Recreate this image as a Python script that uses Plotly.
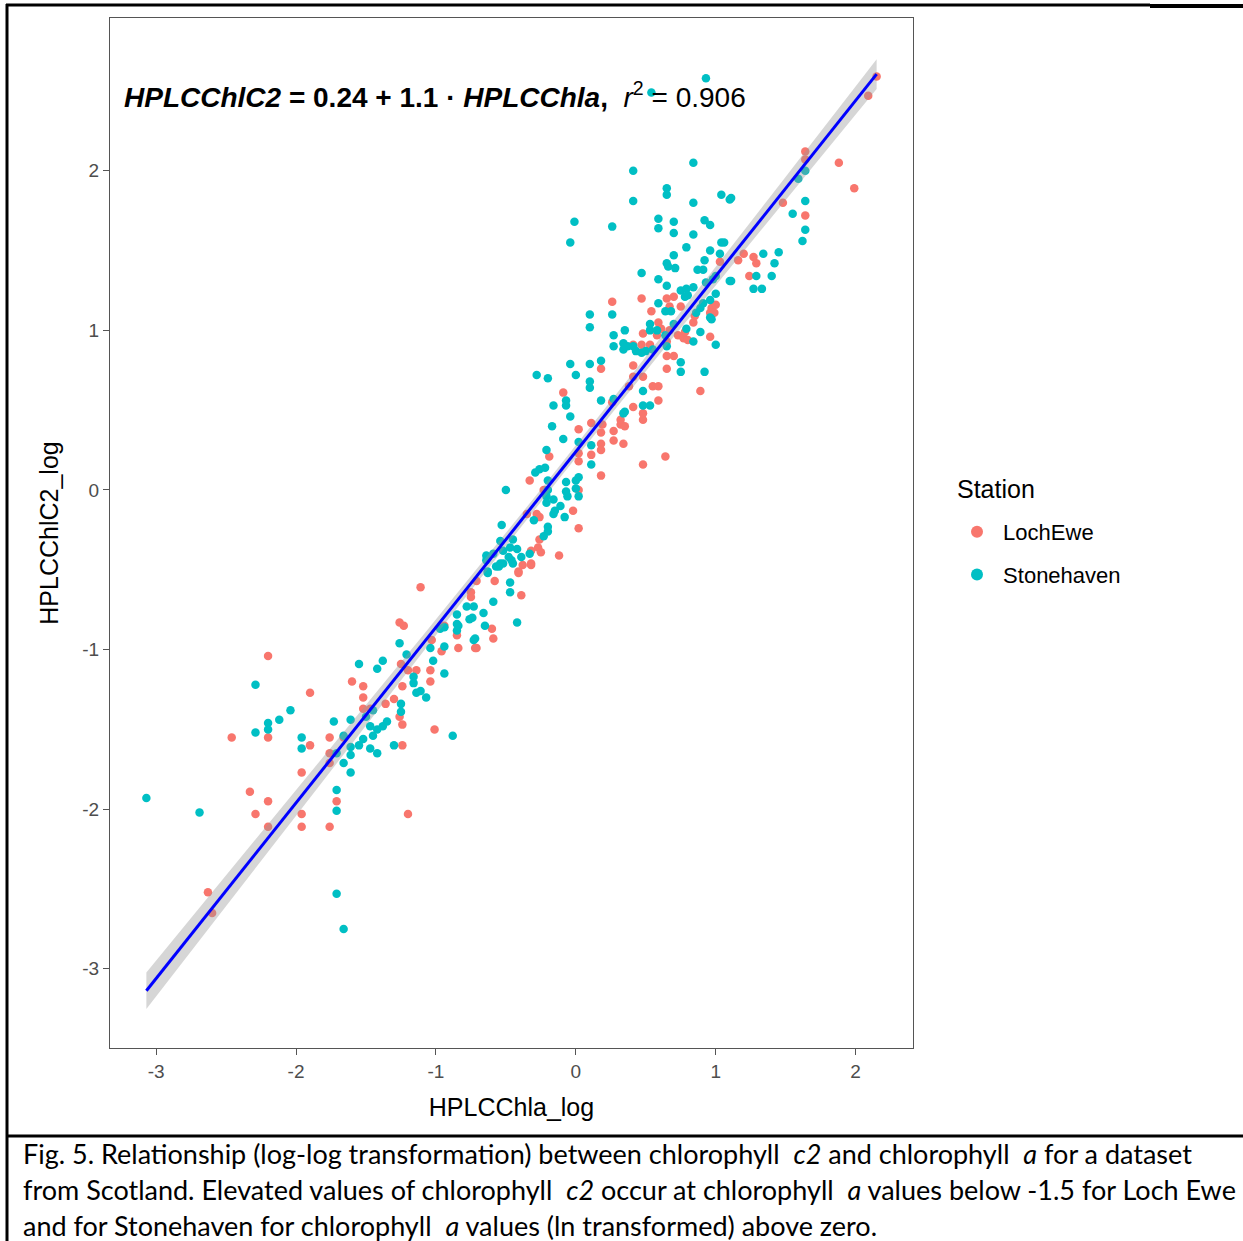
import numpy as np
import plotly.graph_objects as go

# ---------------- data ----------------
lochewe_x = [-2.63,-2.60,-2.46,-2.33,-2.29,-2.20,-2.20,-2.20,-2.20,-1.90,-1.90,-1.96,-1.96,-1.96,
             -1.76,-1.76,-1.76,-1.76,-1.71,-1.20,-1.01,-1.52,-1.52,-1.60,-1.52,-1.47,-1.36,-1.30,
             -1.26,-1.24,-1.24,-1.24,-1.66,-1.25,-1.20,-1.14,-1.04,-1.04,-0.96,-1.03,-0.85,-0.84,
             -0.71,-0.94,-1.26,-1.23,-1.11,-0.38,-0.32,-0.41,-0.58,-0.71,-0.39,-0.75,-0.75,-0.60,
             -0.59,-0.72,0.02,0.11,0.19,0.27,0.27,0.18,0.18,0.18,0.02,0.02,0.11,0.18,-0.19,-0.33,
             -0.23,0.02,-0.02,0.02,-0.28,-0.26,-0.35,-0.26,-0.27,-0.32,-0.25,-0.12,-0.32,-0.41,
             0.26,0.47,0.65,0.70,0.67,0.75,0.54,0.97,1.00,0.96,0.99,0.59,0.61,0.58,0.67,0.65,
             0.73,0.77,0.80,0.78,0.84,0.85,0.96,0.48,0.41,0.47,0.53,0.65,0.70,0.65,0.89,0.18,
             0.41,0.48,0.41,0.38,0.55,0.59,0.59,0.41,0.32,0.32,0.35,-0.09,0.26,0.34,0.48,0.64,
             0.48,0.48,1.03,1.20,1.16,1.27,1.29,1.24,1.48,2.15,2.09,1.64,1.64,1.88,1.99,1.64]
lochewe_y = [-2.52,-2.65,-1.55,-1.89,-2.03,-1.04,-1.55,-1.95,-2.11,-1.27,-1.60,-1.77,-2.03,-2.11,
             -1.55,-1.65,-1.71,-2.11,-1.95,-2.03,-1.50,-1.30,-1.23,-1.20,-1.37,-1.37,-1.34,-1.31,
             -1.42,-1.47,-1.60,-1.23,-1.55,-1.09,-1.13,-1.13,-1.13,-1.20,-1.01,-0.94,-0.91,-0.99,
             -0.99,-0.85,-0.83,-0.85,-0.61,-0.47,-0.47,-0.52,-0.57,-0.57,-0.66,-0.64,-0.67,-0.87,
             -0.93,-0.99,0.38,0.42,0.41,0.37,0.31,0.36,0.29,0.25,0.23,0.18,0.22,0.09,0.21,0.06,
             0.00,0.00,-0.13,-0.24,-0.15,-0.17,-0.15,-0.31,-0.36,-0.38,-0.39,-0.41,-0.46,-0.51,
             1.18,1.20,1.20,1.21,1.15,1.15,1.12,1.14,1.16,1.11,1.11,1.05,1.01,0.97,1.00,0.93,
             0.97,0.95,0.94,0.99,1.05,1.09,0.96,0.98,0.91,0.91,0.91,0.84,0.84,0.76,0.62,0.76,
             0.78,0.71,0.71,0.65,0.65,0.65,0.56,0.52,0.44,0.41,0.40,0.61,0.55,0.29,0.16,0.21,
             0.48,0.44,1.43,1.48,1.44,1.46,1.42,1.34,1.80,2.59,2.47,2.12,2.07,2.05,1.89,1.72]

stonehaven_x = [-3.07,-2.69,-2.29,-2.29,-2.20,-2.20,-2.12,-2.04,-1.96,-1.96,-1.73,-1.71,-1.71,-1.71,
                -1.66,-0.88,-1.66,-1.61,-1.61,-1.61,-1.66,-1.61,-1.55,-1.52,-1.47,-1.42,-1.45,-1.38,
                -1.35,-1.47,-1.42,-1.30,-1.50,-1.45,-1.71,-1.26,-1.55,-1.42,-1.38,-1.21,-1.16,-1.16,
                -1.14,-1.07,-1.11,-1.02,-1.04,-0.94,-0.94,-0.73,-0.84,-0.76,-0.97,-1.25,-1.25,-0.64,
                -0.57,-0.52,-0.46,-0.63,-0.47,-0.47,-0.59,-0.78,-0.73,-0.66,-0.74,-0.65,-0.42,-0.72,
                -0.85,-0.85,-0.85,-0.94,-0.16,-0.07,-0.04,-0.17,-0.09,0.02,0.11,-0.21,-0.29,-0.26,
                -0.22,-0.50,-0.20,-0.20,-0.21,-0.21,-0.16,-0.07,-0.07,0.00,0.00,0.02,-0.06,-0.11,
                -0.16,-0.08,-0.15,-0.30,-0.20,-0.20,-0.53,-0.33,-0.64,-0.59,-0.52,-0.47,-0.48,-0.42,
                -0.54,-0.45,-0.55,-0.39,-0.45,-0.54,-0.63,-0.23,0.59,0.65,0.75,0.79,0.84,0.80,0.78,
                0.93,0.98,1.00,1.10,0.59,0.64,0.68,0.89,0.91,0.86,0.97,0.10,0.10,0.26,0.53,0.53,
                0.58,0.64,0.70,0.79,0.89,0.84,1.00,0.35,0.27,0.27,0.34,0.34,0.37,0.41,0.43,0.47,
                0.50,0.55,0.65,0.75,0.75,0.92,-0.04,0.00,-0.20,-0.28,0.10,0.18,0.10,0.10,0.48,0.48,
                0.53,0.35,0.27,-0.07,0.18,0.34,0.11,0.02,0.41,0.84,1.10,-0.01,-0.04,0.26,0.59,0.59,
                0.70,0.70,0.84,0.92,0.96,0.79,0.70,0.96,1.04,1.06,1.03,0.65,0.71,0.66,0.47,0.92,
                0.91,0.87,1.34,1.45,1.42,1.40,1.29,1.27,1.33,1.11,1.00,1.55,0.96,0.96,0.93,0.54,
                1.64,1.59,1.64,1.64,1.62,0.41,0.84,0.65,0.65,1.04,1.11]
stonehaven_y = [-1.93,-2.02,-1.22,-1.52,-1.46,-1.50,-1.44,-1.38,-1.55,-1.62,-1.45,-1.88,-2.01,-2.53,
                -2.75,-1.54,-1.54,-1.44,-1.61,-1.66,-1.71,-1.77,-1.60,-1.56,-1.48,-1.50,-1.54,-1.48,
                -1.45,-1.62,-1.65,-1.60,-1.42,-1.38,-1.65,-0.96,-1.09,-1.12,-1.07,-1.03,-1.17,-1.21,
                -1.27,-1.30,-1.26,-1.07,-0.99,-1.15,-0.98,-0.94,-0.85,-0.81,-0.87,-1.34,-1.39,-0.44,
                -0.48,-0.46,-0.44,-0.52,-0.58,-0.64,-0.70,-0.73,-0.73,-0.77,-0.80,-0.85,-0.83,-0.93,
                -0.78,-0.84,-0.88,-0.86,0.53,0.53,0.46,0.40,0.32,0.30,0.16,0.25,0.11,0.13,
                0.14,0.00,0.06,0.00,-0.04,-0.08,-0.06,0.05,-0.01,0.06,0.01,-0.04,-0.04,-0.10,
                -0.15,-0.17,-0.13,-0.19,-0.23,-0.26,-0.22,-0.40,-0.41,-0.40,-0.38,-0.36,-0.42,-0.37,
                -0.46,-0.46,-0.48,-0.42,-0.31,-0.32,-0.51,-0.29,1.32,1.28,1.25,1.26,1.27,1.22,1.21,
                1.30,1.32,1.23,1.31,1.17,1.12,1.12,1.14,1.17,1.11,1.07,1.10,1.02,1.10,1.04,1.00,
                1.00,0.97,1.04,1.01,0.99,0.93,0.91,1.00,0.97,0.90,0.92,0.88,0.90,0.90,0.87,0.86,
                0.87,0.88,0.90,0.80,0.74,0.74,0.79,0.72,0.70,0.72,0.79,0.81,0.68,0.64,0.62,0.53,
                0.53,0.49,0.57,0.56,0.56,0.48,0.28,0.08,1.81,1.80,1.82,1.68,1.55,1.65,1.70,1.64,
                1.68,1.61,1.60,1.69,1.66,1.52,1.47,1.50,1.55,1.55,1.48,1.42,1.39,1.40,1.36,1.44,
                1.38,1.38,1.48,1.49,1.42,1.34,1.34,1.26,1.26,1.31,1.34,1.73,1.19,1.08,2.58,2.49,
                2.00,1.95,1.81,1.63,1.56,2.00,2.05,1.89,1.85,1.85,1.83]

fit_intercept = 0.24
fit_slope = 1.1
r_squared = 0.906

station_names = ["LochEwe", "Stonehaven"]
station_colors = ["#F8766D", "#00BFC4"]

x_ticks = [-3, -2, -1, 0, 1, 2]
y_ticks = [-3, -2, -1, 0, 1, 2]

caption_lines = [
    "Fig. 5. Relationship (log-log transformation) between chlorophyll  <i>c2</i> and chlorophyll  <i>a</i> for a dataset",
    "from Scotland. Elevated values of chlorophyll  <i>c2</i> occur at chlorophyll  <i>a</i> values below -1.5 for Loch Ewe",
    "and for Stonehaven for chlorophyll  <i>a</i> values (ln transformed) above zero.",
]

# ---------------- regression line and 95% band ----------------
all_x = np.array(lochewe_x + stonehaven_x)
all_y = np.array(lochewe_y + stonehaven_y)
n = len(all_x)
resid = all_y - (fit_intercept + fit_slope * all_x)
s = np.sqrt(np.sum(resid ** 2) / (n - 2))
xbar = all_x.mean()
sxx = np.sum((all_x - xbar) ** 2)
xs = np.linspace(all_x.min(), all_x.max(), 80)
ys = fit_intercept + fit_slope * xs
se = s * np.sqrt(1.0 / n + (xs - xbar) ** 2 / sxx) * 1.966

# ---------------- figure ----------------
W, H = 1243, 1241
L, R, T, B = 110, 913, 18, 1048  # plot-area pixel box


def px(xp):
    return (xp - L) / (R - L)


def py(yp):
    return (B - yp) / (B - T)


fig = go.Figure()

for name, col, xv, yv in [(station_names[0], station_colors[0], lochewe_x, lochewe_y),
                          (station_names[1], station_colors[1], stonehaven_x, stonehaven_y)]:
    fig.add_trace(go.Scatter(x=xv, y=yv, mode="markers", name="\u00a0" + name, legendgroup=name,
                             marker=dict(color=col, size=8.5, line=dict(width=0))))

fig.add_trace(go.Scatter(x=xs, y=ys - se, mode="lines", line=dict(width=0),
                         showlegend=False, hoverinfo="skip"))
fig.add_trace(go.Scatter(x=xs, y=ys + se, mode="lines", line=dict(width=0),
                         fill="tonexty", fillcolor="rgba(153,153,153,0.4)",
                         showlegend=False, hoverinfo="skip"))
fig.add_trace(go.Scatter(x=xs, y=ys, mode="lines", line=dict(color="#0000FF", width=3),
                         showlegend=False, hoverinfo="skip"))

axis_common = dict(showgrid=False, zeroline=False, showline=True, mirror=True,
                   linecolor="#555555", linewidth=1.3, ticks="outside", ticklen=6,
                   tickcolor="#555555", tickwidth=1.2,
                   tickfont=dict(family="Liberation Sans, Arial", size=19, color="#4D4D4D"))

fig.update_xaxes(range=[-3.33, 2.41], tickvals=x_ticks, ticktext=[str(t) for t in x_ticks],
                 title=dict(text="HPLCChla_log", standoff=17,
                            font=dict(family="Liberation Sans, Arial", size=25, color="#000")),
                 **axis_common)
fig.update_yaxes(range=[-3.496, 2.957], tickvals=y_ticks, ticktext=[str(t) for t in y_ticks],
                 title=dict(text="HPLCChlC2_log", standoff=16,
                            font=dict(family="Liberation Sans, Arial", size=25, color="#000")),
                 **axis_common)

annotations = [
    dict(xref="paper", yref="paper", x=px(122), y=py(95), xanchor="left", yanchor="middle",
         showarrow=False,
         text=f"<b><i>HPLCChlC2</i> = {fit_intercept} + {fit_slope} · <i>HPLCChla</i>,</b>  "
              f"<i>r</i><sup>2</sup> = {r_squared}",
         font=dict(family="Liberation Sans, Arial", size=28, color="#000")),
    dict(xref="paper", yref="paper", x=px(955), y=py(489), xanchor="left", yanchor="middle",
         showarrow=False, text="Station",
         font=dict(family="Liberation Sans, Arial", size=25, color="#000")),
]
for i, line in enumerate(caption_lines):
    annotations.append(dict(xref="paper", yref="paper", x=px(21), y=py(1153 + 36 * i),
                            xanchor="left", yanchor="middle", showarrow=False, text=line,
                            font=dict(family="Lato, Open Sans, sans-serif", size=27, color="#000")))

shapes = [
    dict(type="line", xref="paper", yref="paper", x0=px(7), x1=px(7), y0=py(4), y1=py(1241),
         line=dict(color="#000", width=3)),
    dict(type="line", xref="paper", yref="paper", x0=px(6), x1=px(1150), y0=py(5), y1=py(5),
         line=dict(color="#000", width=3)),
    dict(type="line", xref="paper", yref="paper", x0=px(1150), x1=px(1243), y0=py(6), y1=py(6),
         line=dict(color="#000", width=4)),
    dict(type="line", xref="paper", yref="paper", x0=px(6), x1=px(1243), y0=py(1136), y1=py(1136),
         line=dict(color="#000", width=3)),
]

fig.update_layout(
    width=W, height=H,
    margin=dict(l=L, r=W - R, t=T, b=H - B, pad=0),
    paper_bgcolor="white", plot_bgcolor="white",
    annotations=annotations, shapes=shapes,
    legend=dict(font=dict(family="Liberation Sans, Arial", size=22, color="#000"),
                x=px(957), y=py(511), xanchor="left", yanchor="top",
                tracegroupgap=11, itemsizing="constant", bgcolor="rgba(0,0,0,0)"),
    showlegend=True,
)

fig.write_html("out.html", config={"displayModeBar": False},
               post_script="document.body.style.margin='0';")
